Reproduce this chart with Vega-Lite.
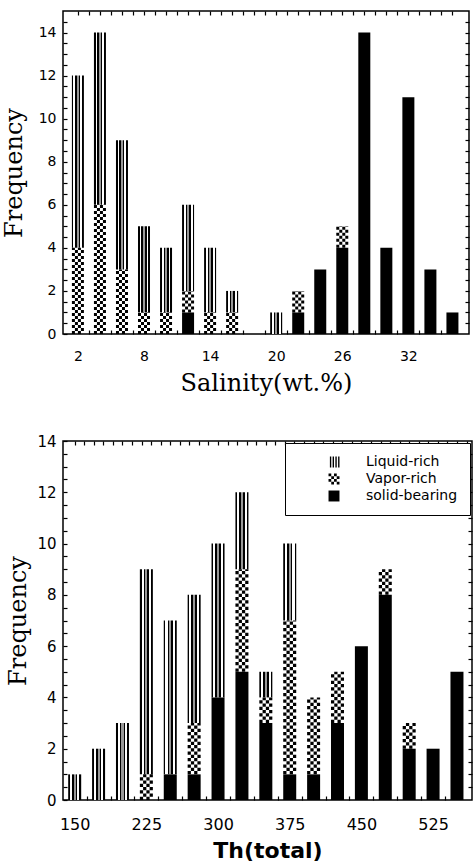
{
  "$schema": "https://vega.github.io/schema/vega-lite/v6.json",
  "padding": {"left": 1, "top": 9, "right": 0, "bottom": 0},
  "spacing": 37,
  "resolve": {"scale": {"shape": "independent"}, "legend": {"shape": "independent"}},
  "datasets": {
    "salinity": [
      {"salinity": 2, "type": "Vapor-rich", "count": 4},
      {"salinity": 2, "type": "Liquid-rich", "count": 8},
      {"salinity": 4, "type": "Vapor-rich", "count": 6},
      {"salinity": 4, "type": "Liquid-rich", "count": 8},
      {"salinity": 6, "type": "Vapor-rich", "count": 3},
      {"salinity": 6, "type": "Liquid-rich", "count": 6},
      {"salinity": 8, "type": "Vapor-rich", "count": 1},
      {"salinity": 8, "type": "Liquid-rich", "count": 4},
      {"salinity": 10, "type": "Vapor-rich", "count": 1},
      {"salinity": 10, "type": "Liquid-rich", "count": 3},
      {"salinity": 12, "type": "solid-bearing", "count": 1},
      {"salinity": 12, "type": "Vapor-rich", "count": 1},
      {"salinity": 12, "type": "Liquid-rich", "count": 4},
      {"salinity": 14, "type": "Vapor-rich", "count": 1},
      {"salinity": 14, "type": "Liquid-rich", "count": 3},
      {"salinity": 16, "type": "Vapor-rich", "count": 1},
      {"salinity": 16, "type": "Liquid-rich", "count": 1},
      {"salinity": 20, "type": "Liquid-rich", "count": 1},
      {"salinity": 22, "type": "solid-bearing", "count": 1},
      {"salinity": 22, "type": "Vapor-rich", "count": 1},
      {"salinity": 24, "type": "solid-bearing", "count": 3},
      {"salinity": 26, "type": "solid-bearing", "count": 4},
      {"salinity": 26, "type": "Vapor-rich", "count": 1},
      {"salinity": 28, "type": "solid-bearing", "count": 14},
      {"salinity": 30, "type": "solid-bearing", "count": 4},
      {"salinity": 32, "type": "solid-bearing", "count": 11},
      {"salinity": 34, "type": "solid-bearing", "count": 3},
      {"salinity": 36, "type": "solid-bearing", "count": 1}
    ],
    "th": [
      {"th": 150, "type": "Liquid-rich", "count": 1},
      {"th": 175, "type": "Liquid-rich", "count": 2},
      {"th": 200, "type": "Liquid-rich", "count": 3},
      {"th": 225, "type": "Vapor-rich", "count": 1},
      {"th": 225, "type": "Liquid-rich", "count": 8},
      {"th": 250, "type": "solid-bearing", "count": 1},
      {"th": 250, "type": "Liquid-rich", "count": 6},
      {"th": 275, "type": "solid-bearing", "count": 1},
      {"th": 275, "type": "Vapor-rich", "count": 2},
      {"th": 275, "type": "Liquid-rich", "count": 5},
      {"th": 300, "type": "solid-bearing", "count": 4},
      {"th": 300, "type": "Liquid-rich", "count": 6},
      {"th": 325, "type": "solid-bearing", "count": 5},
      {"th": 325, "type": "Vapor-rich", "count": 4},
      {"th": 325, "type": "Liquid-rich", "count": 3},
      {"th": 350, "type": "solid-bearing", "count": 3},
      {"th": 350, "type": "Vapor-rich", "count": 1},
      {"th": 350, "type": "Liquid-rich", "count": 1},
      {"th": 375, "type": "solid-bearing", "count": 1},
      {"th": 375, "type": "Vapor-rich", "count": 6},
      {"th": 375, "type": "Liquid-rich", "count": 3},
      {"th": 400, "type": "solid-bearing", "count": 1},
      {"th": 400, "type": "Vapor-rich", "count": 3},
      {"th": 425, "type": "solid-bearing", "count": 3},
      {"th": 425, "type": "Vapor-rich", "count": 2},
      {"th": 450, "type": "solid-bearing", "count": 6},
      {"th": 475, "type": "solid-bearing", "count": 8},
      {"th": 475, "type": "Vapor-rich", "count": 1},
      {"th": 500, "type": "solid-bearing", "count": 2},
      {"th": 500, "type": "Vapor-rich", "count": 1},
      {"th": 525, "type": "solid-bearing", "count": 2},
      {"th": 550, "type": "solid-bearing", "count": 5}
    ]
  },
  "config": {
    "view": {"stroke": "black", "strokeWidth": 1.5},
    "axis": {
      "domain": false,
      "grid": false,
      "labelColor": "black",
      "tickColor": "black",
      "titleColor": "black",
      "tickWidth": 1.2,
      "labelFont": "DejaVu Sans",
      "labelOverlap": false,
      "labelFlush": false,
      "format": ".0f"
    }
  },
  "vconcat": [
    {
      "width": 406,
      "height": 323,
      "data": {"name": "salinity"},
      "transform": [
        {"stack": "count", "groupby": ["salinity"], "sort": [{"field": "type", "order": "descending"}], "as": ["y0", "y1"]}
      ],
      "resolve": {"axis": {"x": "independent", "y": "independent"}},
      "layer": [
        {
          "transform": [{"filter": "datum.type == 'Liquid-rich'"}],
          "mark": {
            "type": "bar", "size": 12,
            "color": {"gradient": "linear", "x1": 0, "y1": 0, "x2": 1, "y2": 0, "stops": [
              {"offset": 0, "color": "#000"}, {"offset": 0.13, "color": "#000"},
              {"offset": 0.13, "color": "#fff"}, {"offset": 0.29, "color": "#fff"},
              {"offset": 0.29, "color": "#000"}, {"offset": 0.42, "color": "#000"},
              {"offset": 0.42, "color": "#999"}, {"offset": 0.58, "color": "#999"},
              {"offset": 0.58, "color": "#000"}, {"offset": 0.71, "color": "#000"},
              {"offset": 0.71, "color": "#fff"}, {"offset": 0.87, "color": "#fff"},
              {"offset": 0.87, "color": "#000"}, {"offset": 1, "color": "#000"}
            ]}
          },
          "encoding": {
            "x": {
              "field": "salinity", "type": "quantitative",
              "scale": {"domain": [1.1, 37.05], "nice": false, "zero": false},
              "axis": {
                "orient": "bottom",
                "values": [2, 3, 5, 7, 8, 9, 11, 13, 14, 15, 17, 19, 20, 21, 23, 25, 26, 27, 29, 31, 32, 33, 35],
                "labelExpr": "datum.value % 2 == 0 ? datum.label : ''",
                "tickOpacity": {"condition": {"test": "datum.value % 2 == 1", "value": 1}, "value": 0},
                "tickSize": -4,
                "labelPadding": 19,
                "labelFontSize": 14,
                "title": "Salinity(wt.%)",
                "titleFont": "DejaVu Serif",
                "titleFontSize": 24,
                "titleFontWeight": "normal",
                "titlePadding": 8
              }
            },
            "y": {
              "field": "y0", "type": "quantitative",
              "scale": {"domain": [0, 15], "nice": false},
              "axis": {
                "orient": "left",
                "values": [0, 0.5, 1, 1.5, 2, 2.5, 3, 3.5, 4, 4.5, 5, 5.5, 6, 6.5, 7, 7.5, 8, 8.5, 9, 9.5, 10, 10.5, 11, 11.5, 12, 12.5, 13, 13.5, 14, 14.5],
                "labelExpr": "datum.value % 2 == 0 ? datum.label : ''",
                "tickSize": -4,
                "labelPadding": 11,
                "labelFontSize": 14,
                "minExtent": 26,
                "maxExtent": 26,
                "title": "Frequency",
                "titleFont": "DejaVu Serif",
                "titleFontSize": 24,
                "titleFontWeight": "normal",
                "titlePadding": 11
              }
            },
            "y2": {"field": "y1"}
          }
        },
        {
          "transform": [{"filter": "datum.type == 'solid-bearing'"}],
          "mark": {"type": "bar", "size": 12, "color": "black"},
          "encoding": {
            "x": {
              "field": "salinity", "type": "quantitative",
              "scale": {"domain": [1.1, 37.05], "nice": false, "zero": false},
              "axis": {
                "orient": "top",
                "values": [2, 3, 4, 5, 6, 7, 8, 9, 10, 11, 12, 13, 14, 15, 16, 17, 18, 19, 20, 21, 22, 23, 24, 25, 26, 27, 28, 29, 30, 31, 32, 33, 34, 35, 36],
                "labels": false,
                "tickSize": -4,
                "minExtent": 0,
                "title": null
              }
            },
            "y": {
              "field": "y0", "type": "quantitative",
              "scale": {"domain": [0, 15], "nice": false},
              "axis": {
                "orient": "right",
                "values": [0.5, 1, 1.5, 2, 2.5, 3, 3.5, 4, 4.5, 5, 5.5, 6, 6.5, 7, 7.5, 8, 8.5, 9, 9.5, 10, 10.5, 11, 11.5, 12, 12.5, 13, 13.5, 14, 14.5],
                "labels": false,
                "tickSize": -4,
                "minExtent": 0,
                "title": null
              }
            },
            "y2": {"field": "y1"}
          }
        },
        {
          "transform": [{"filter": "datum.type == 'Vapor-rich'"}],
          "mark": {"type": "rule", "color": "black", "strokeWidth": 3, "strokeDash": [3, 3], "strokeDashOffset": 0, "xOffset": -4.5},
          "encoding": {
            "x": {"field": "salinity", "type": "quantitative", "scale": {"domain": [1.1, 37.05], "nice": false, "zero": false}, "axis": null},
            "y": {"field": "y0", "type": "quantitative", "scale": {"domain": [0, 15], "nice": false}, "axis": null},
            "y2": {"field": "y1"}
          }
        },
        {
          "transform": [{"filter": "datum.type == 'Vapor-rich'"}],
          "mark": {"type": "rule", "color": "black", "strokeWidth": 3, "strokeDash": [3, 3], "strokeDashOffset": 3, "xOffset": -1.5},
          "encoding": {
            "x": {"field": "salinity", "type": "quantitative", "scale": {"domain": [1.1, 37.05], "nice": false, "zero": false}, "axis": null},
            "y": {"field": "y0", "type": "quantitative", "scale": {"domain": [0, 15], "nice": false}, "axis": null},
            "y2": {"field": "y1"}
          }
        },
        {
          "transform": [{"filter": "datum.type == 'Vapor-rich'"}],
          "mark": {"type": "rule", "color": "black", "strokeWidth": 3, "strokeDash": [3, 3], "strokeDashOffset": 0, "xOffset": 1.5},
          "encoding": {
            "x": {"field": "salinity", "type": "quantitative", "scale": {"domain": [1.1, 37.05], "nice": false, "zero": false}, "axis": null},
            "y": {"field": "y0", "type": "quantitative", "scale": {"domain": [0, 15], "nice": false}, "axis": null},
            "y2": {"field": "y1"}
          }
        },
        {
          "transform": [{"filter": "datum.type == 'Vapor-rich'"}],
          "mark": {"type": "rule", "color": "black", "strokeWidth": 3, "strokeDash": [3, 3], "strokeDashOffset": 3, "xOffset": 4.5},
          "encoding": {
            "x": {"field": "salinity", "type": "quantitative", "scale": {"domain": [1.1, 37.05], "nice": false, "zero": false}, "axis": null},
            "y": {"field": "y0", "type": "quantitative", "scale": {"domain": [0, 15], "nice": false}, "axis": null},
            "y2": {"field": "y1"}
          }
        }
      ]
    },
    {
      "width": 409,
      "height": 359,
      "data": {"name": "th"},
      "transform": [
        {"stack": "count", "groupby": ["th"], "sort": [{"field": "type", "order": "descending"}], "as": ["y0", "y1"]}
      ],
      "resolve": {"axis": {"x": "independent", "y": "independent"}},
      "layer": [
        {
          "transform": [{"filter": "datum.type == 'Liquid-rich'"}],
          "mark": {
            "type": "bar", "size": 13,
            "color": {"gradient": "linear", "x1": 0, "y1": 0, "x2": 1, "y2": 0, "stops": [
              {"offset": 0, "color": "#000"}, {"offset": 0.13, "color": "#000"},
              {"offset": 0.13, "color": "#fff"}, {"offset": 0.29, "color": "#fff"},
              {"offset": 0.29, "color": "#000"}, {"offset": 0.42, "color": "#000"},
              {"offset": 0.42, "color": "#999"}, {"offset": 0.58, "color": "#999"},
              {"offset": 0.58, "color": "#000"}, {"offset": 0.71, "color": "#000"},
              {"offset": 0.71, "color": "#fff"}, {"offset": 0.87, "color": "#fff"},
              {"offset": 0.87, "color": "#000"}, {"offset": 1, "color": "#000"}
            ]}
          },
          "encoding": {
            "x": {
              "field": "th", "type": "quantitative",
              "scale": {"domain": [143, 560.5], "nice": false, "zero": false},
              "axis": {
                "orient": "bottom",
                "values": [150, 162.5, 187.5, 212.5, 225, 237.5, 262.5, 287.5, 300, 312.5, 337.5, 362.5, 375, 387.5, 412.5, 437.5, 450, 462.5, 487.5, 512.5, 525, 537.5],
                "labelExpr": "datum.value % 75 == 0 ? datum.label : ''",
                "tickOpacity": {"condition": {"test": "datum.value % 25 == 12.5", "value": 1}, "value": 0},
                "tickSize": -4,
                "labelPadding": 20,
                "labelFontSize": 16,
                "title": "Th(total)",
                "titleFont": "DejaVu Sans",
                "titleFontSize": 22,
                "titleFontWeight": "bold",
                "titlePadding": 8
              }
            },
            "y": {
              "field": "y0", "type": "quantitative",
              "scale": {"domain": [0, 14], "nice": false},
              "axis": {
                "orient": "left",
                "values": [0, 0.5, 1, 1.5, 2, 2.5, 3, 3.5, 4, 4.5, 5, 5.5, 6, 6.5, 7, 7.5, 8, 8.5, 9, 9.5, 10, 10.5, 11, 11.5, 12, 12.5, 13, 13.5, 14],
                "labelExpr": "datum.value % 2 == 0 ? datum.label : ''",
                "tickSize": -4,
                "labelPadding": 11,
                "labelFontSize": 15,
                "minExtent": 22,
                "maxExtent": 22,
                "title": "Frequency",
                "titleFont": "DejaVu Serif",
                "titleFontSize": 24,
                "titleFontWeight": "normal",
                "titlePadding": 11
              }
            },
            "y2": {"field": "y1"}
          }
        },
        {
          "transform": [{"filter": "datum.type == 'solid-bearing'"}],
          "mark": {"type": "bar", "size": 13, "color": "black"},
          "encoding": {
            "x": {
              "field": "th", "type": "quantitative",
              "scale": {"domain": [143, 560.5], "nice": false, "zero": false},
              "axis": {
                "orient": "top",
                "values": [150, 160, 170, 180, 190, 200, 210, 220, 230, 240, 250, 260, 270, 280, 290, 300, 310, 320, 330, 340, 350, 360, 370, 380, 390, 400, 410, 420, 430, 440, 450, 460, 470, 480, 490, 500, 510, 520, 530, 540, 550, 560],
                "labels": false,
                "tickSize": -4,
                "minExtent": 0,
                "title": null
              }
            },
            "y": {
              "field": "y0", "type": "quantitative",
              "scale": {"domain": [0, 14], "nice": false},
              "axis": {
                "orient": "right",
                "values": [0.5, 1, 1.5, 2, 2.5, 3, 3.5, 4, 4.5, 5, 5.5, 6, 6.5, 7, 7.5, 8, 8.5, 9, 9.5, 10, 10.5, 11, 11.5, 12, 12.5, 13, 13.5],
                "labels": false,
                "tickSize": -4,
                "minExtent": 0,
                "title": null
              }
            },
            "y2": {"field": "y1"}
          }
        },
        {
          "transform": [{"filter": "datum.type == 'Vapor-rich'"}],
          "mark": {"type": "rule", "color": "black", "strokeWidth": 3.25, "strokeDash": [3.25, 3.25], "strokeDashOffset": 0, "xOffset": -4.875},
          "encoding": {
            "x": {"field": "th", "type": "quantitative", "scale": {"domain": [143, 560.5], "nice": false, "zero": false}, "axis": null},
            "y": {"field": "y0", "type": "quantitative", "scale": {"domain": [0, 14], "nice": false}, "axis": null},
            "y2": {"field": "y1"}
          }
        },
        {
          "transform": [{"filter": "datum.type == 'Vapor-rich'"}],
          "mark": {"type": "rule", "color": "black", "strokeWidth": 3.25, "strokeDash": [3.25, 3.25], "strokeDashOffset": 3.25, "xOffset": -1.625},
          "encoding": {
            "x": {"field": "th", "type": "quantitative", "scale": {"domain": [143, 560.5], "nice": false, "zero": false}, "axis": null},
            "y": {"field": "y0", "type": "quantitative", "scale": {"domain": [0, 14], "nice": false}, "axis": null},
            "y2": {"field": "y1"}
          }
        },
        {
          "transform": [{"filter": "datum.type == 'Vapor-rich'"}],
          "mark": {"type": "rule", "color": "black", "strokeWidth": 3.25, "strokeDash": [3.25, 3.25], "strokeDashOffset": 0, "xOffset": 1.625},
          "encoding": {
            "x": {"field": "th", "type": "quantitative", "scale": {"domain": [143, 560.5], "nice": false, "zero": false}, "axis": null},
            "y": {"field": "y0", "type": "quantitative", "scale": {"domain": [0, 14], "nice": false}, "axis": null},
            "y2": {"field": "y1"}
          }
        },
        {
          "transform": [{"filter": "datum.type == 'Vapor-rich'"}],
          "mark": {"type": "rule", "color": "black", "strokeWidth": 3.25, "strokeDash": [3.25, 3.25], "strokeDashOffset": 3.25, "xOffset": 4.875},
          "encoding": {
            "x": {"field": "th", "type": "quantitative", "scale": {"domain": [143, 560.5], "nice": false, "zero": false}, "axis": null},
            "y": {"field": "y0", "type": "quantitative", "scale": {"domain": [0, 14], "nice": false}, "axis": null},
            "y2": {"field": "y1"}
          }
        },
        {
          "mark": {"type": "point", "opacity": 0, "filled": true, "fill": "black", "stroke": "black", "strokeWidth": 1.3},
          "encoding": {
            "x": {"field": "th", "type": "quantitative", "scale": {"domain": [143, 560.5], "nice": false, "zero": false}, "axis": null},
            "y": {"field": "y1", "type": "quantitative", "scale": {"domain": [0, 14], "nice": false}, "axis": null},
            "shape": {
              "field": "type", "type": "nominal",
              "scale": {
                "domain": ["Liquid-rich", "Vapor-rich", "solid-bearing"],
                "range": [
                  "M-0.75,-1H-0.5V1H-0.75Z M-0.25,-1H0V1H-0.25Z M0.25,-1H0.5V1H0.25Z M0.75,-1H1V1H0.75Z",
                  "M-1,-1h0.5v0.5h-0.5Z M0,-1h0.5v0.5h-0.5Z M-0.5,-0.5h0.5v0.5h-0.5Z M0.5,-0.5h0.5v0.5h-0.5Z M-1,0h0.5v0.5h-0.5Z M0,0h0.5v0.5h-0.5Z M-0.5,0.5h0.5v0.5h-0.5Z M0.5,0.5h0.5v0.5h-0.5Z",
                  "square"
                ]
              },
              "legend": {
                "title": null,
                "orient": "top-right",
                "offset": 2,
                "padding": 12,
                "strokeColor": "black",
                "fillColor": "white",
                "symbolSize": 120,
                "symbolOffset": 30,
                "labelOffset": 25,
                "rowPadding": 3,
                "labelFont": "DejaVu Sans",
                "labelFontSize": 14,
                "labelColor": "black",
                "symbolOpacity": 1,
                "symbolFillColor": "black",
                "symbolStrokeColor": "black",
                "symbolStrokeWidth": 0,
                "encode": {
                  "symbols": {"update": {"opacity": {"value": 1}, "fill": {"value": "black"}}},
                  "legend": {"update": {"strokeWidth": {"value": 1.5}}}
                }
              }
            }
          }
        }
      ]
    }
  ]
}
